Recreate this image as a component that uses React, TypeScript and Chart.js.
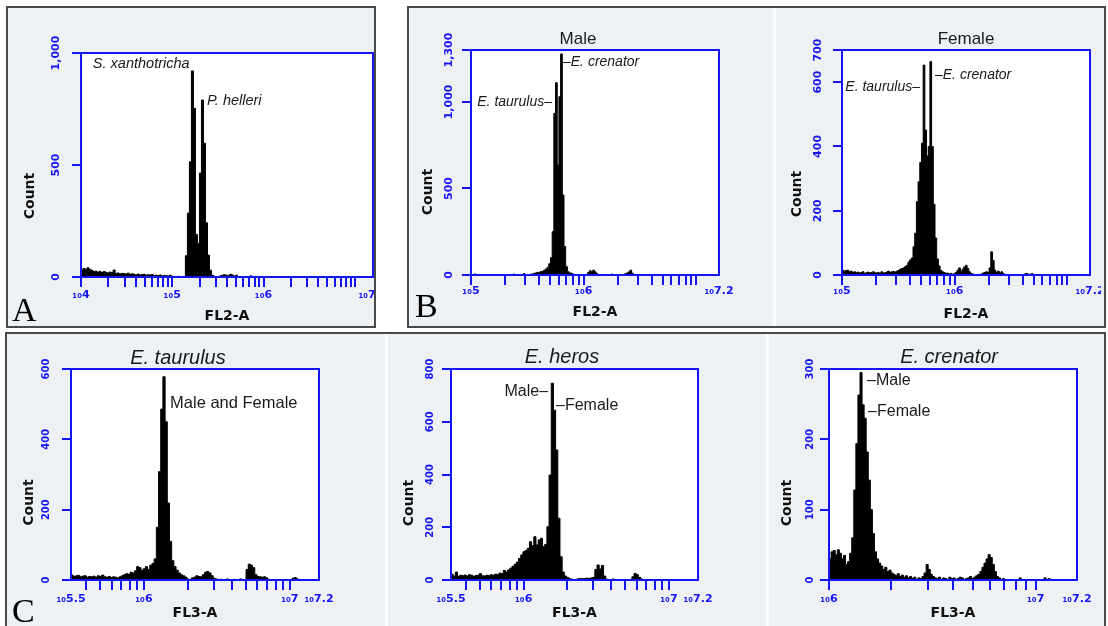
import React, { useEffect, useRef } from "react";
import { Chart, registerables } from "chart.js";

Chart.register(...registerables);

// ---------- Panel A (FL2-A, S. xanthotricha / P. helleri) ----------
const aBinStart = 4.0;
const aBinWidth = 0.022;
const aCounts = [
  31, 38, 35, 41, 33, 30,
  24, 26, 22, 25, 20, 24, 21, 18, 22, 20,
  31,
  16, 18, 14, 16, 15, 13, 17, 12, 14,
  12, 10, 13, 9, 11, 12, 8, 10, 9, 11,
  7, 8, 6, 9, 5, 7, 6, 4, 8, 3,
  2, 0, 3, 0, 1, 0,
  95, 285, 514, 920, 753, 190, 150, 464, 790, 597, 242, 98, 30, 8,
  3, 0, 0, 5, 8, 10, 8, 6, 12, 9, 4, 8, 0, 0, 0, 0, 0, 2, 5, 3,
];
const aXTickValues = [4, 5, 6, 7.2];
const aXTickLabels = ["₁₀4", "₁₀5", "₁₀6", "₁₀7.2"];
const aYTicks = [0, 500, 1000];

// ---------- Panel B Male ----------
const bMaleBinStart = 5.0;
const bMaleBinWidth = 0.015;
const bMaleCounts = [
  0, 0, 6,
  0, 0, 0, 0, 0, 0, 0, 0, 0, 0, 0, 0, 0, 0, 0, 0, 0, 0, 0, 0, 0, 0,
  5, 0, 0, 0, 0, 0, 8, 0, 2, 0, 5, 6,
  10, 12, 15, 15, 20, 22, 28, 35, 45, 65, 100,
  250, 934, 1111, 636, 1030, 1277, 462, 164, 48, 19, 12,
  10, 5, 0, 0, 0, 0, 0, 0, 0, 3,
  15, 25, 20, 28, 18, 8,
  0, 0, 0, 0, 0, 0, 0, 0,
  5,
  0, 0, 0, 0, 0, 0, 0,
  8, 12, 18, 28, 10,
  0,
];
const bMaleXTickValues = [5, 6, 7.2];
const bMaleXTickLabels = ["₁₀5", "₁₀6", "₁₀7.2"];
const bMaleYTicks = [0, 500, 1000, 1300];

// ---------- Panel B Female ----------
const bFemaleBinStart = 5.0;
const bFemaleBinWidth = 0.015;
const bFemaleCounts = [
  15, 12, 14, 15, 10, 12, 8, 10,
  7, 9, 6, 8, 10, 5, 7, 9, 6, 8, 10, 7, 6,
  8, 5, 10, 6, 7, 9, 12, 8, 10, 11, 9, 12, 14, 18, 20,
  22, 26, 30, 40, 47, 53, 88, 130, 228, 290, 350, 410, 653, 451, 370, 400, 664, 399, 220, 115, 50, 28, 15,
  10, 8, 5, 6, 3, 5, 2, 4, 8, 15, 22, 12, 18, 25, 30, 20, 10, 5, 3,
  0, 0, 2, 0, 3, 6, 8, 10, 8, 22, 72, 45, 15, 8, 12, 6, 10, 4, 2,
  0, 0, 0, 0, 0, 0, 0, 0, 0, 0, 0,
  4, 5, 0, 3, 4, 0,
];
const bFemaleXTickValues = [5, 6, 7.2];
const bFemaleXTickLabels = ["₁₀5", "₁₀6", "₁₀7.2"];
const bFemaleYTicks = [0, 200, 400, 600, 700];

// ---------- Panel C: E. taurulus ----------
const cTaurBinStart = 5.5;
const cTaurBinWidth = 0.015;
const cTaurCounts = [
  14, 10, 12, 13, 9, 11, 12, 8, 10, 9, 11, 8, 12, 10, 14,
  9, 8, 10, 7, 9, 8, 6, 9,
  12, 15, 18, 16, 22, 20, 26,
  38, 35, 28, 32, 38, 30,
  42, 47, 60,
  150, 308, 486, 578, 450, 219, 110, 55,
  38, 28, 20, 15, 12, 8,
  3, 0, 6,
  8, 12, 10, 9,
  15, 22, 24, 20, 12,
  5, 3, 0, 2, 0,
  0, 3, 0, 0, 2, 0, 0, 3, 0, 0,
  30, 45, 42, 35, 15,
  10, 9, 8, 9, 6,
  0, 0, 0, 0, 0, 0, 0, 0, 0, 0, 0,
  5, 7, 3,
];
const cTaurXTickValues = [5.5, 6, 7, 7.2];
const cTaurXTickLabels = ["₁₀5.5", "₁₀6", "₁₀7", "₁₀7.2"];
const cTaurYTicks = [0, 200, 400, 600];

// ---------- Panel C: E. heros ----------
const cHerosBinStart = 5.5;
const cHerosBinWidth = 0.015;
const cHerosCounts = [
  22, 15, 30, 14, 18, 16, 19, 15, 20, 18, 14, 17, 18, 24, 16, 15, 18, 16, 20, 18, 22, 20, 26, 24, 36, 30,
  38, 45, 52, 60, 68, 82, 95, 107, 112, 120, 145, 130, 164, 133, 152, 158, 126, 135, 202, 398, 746, 644, 493, 234, 88, 30, 15, 10,
  5, 3, 0, 2,
  5, 6, 5, 6, 7, 6, 8, 10,
  40, 57, 42, 55, 15, 3, 0, 0,
  4,
  0, 0, 0, 0, 0, 0, 0, 0,
  12, 25, 20, 10, 4, 2, 0,
];
const cHerosXTickValues = [5.5, 6, 7, 7.2];
const cHerosXTickLabels = ["₁₀5.5", "₁₀6", "₁₀7", "₁₀7.2"];
const cHerosYTicks = [0, 200, 400, 600, 800];

// ---------- Panel C: E. crenator ----------
const cCrenBinStart = 6.0;
const cCrenBinWidth = 0.01;
const cCrenCounts = [
  30, 40, 42, 36, 43, 38, 30, 35, 22, 26,
  38, 60, 128, 194, 263,
  295,
  249, 230, 182, 142, 100, 66,
  40, 30, 24, 20, 15, 18, 12, 14, 10,
  8, 6, 9, 5, 7, 4, 6,
  3, 5, 2, 4, 0, 3, 2, 5,
  10, 22, 15, 8, 5,
  3, 2, 4, 0, 3, 2, 0, 4, 2, 3, 0, 2, 4, 3, 0, 2, 3, 5, 2, 4, 6, 8,
  12, 18, 24, 30, 36, 32, 22, 12, 5,
  3, 0, 2, 0, 0, 0, 0, 0, 0, 0,
  3,
  0, 0, 0, 0, 0, 0, 0, 0, 0, 0, 0,
  3, 0, 2, 0,
];
const cCrenXTickValues = [6, 7, 7.2];
const cCrenXTickLabels = ["₁₀6", "₁₀7", "₁₀7.2"];
const cCrenYTicks = [0, 100, 200, 300];

// ---------- styling ----------
const BLUE = "#1414f5";
const PANEL_BG = "#edf1f4";
const SANS = '"Liberation Sans", Arial, sans-serif';
const AXISFONT = '"DejaVu Sans", sans-serif';
const Y_TITLE = "Count";

type Txt = { text: string; x: number; y: number; size: number; italic?: boolean; align: CanvasTextAlign };

type Spec = {
  id: string;
  canvas: { x: number; y: number; w: number; h: number };
  plot: { l: number; r: number; t: number; b: number };
  yW: number;
  xH: number;
  binStart: number;
  binWidth: number;
  counts: number[];
  xMin: number;
  xMax: number;
  xTickValues: number[];
  xTickLabels: string[];
  yMax: number;
  yTicks: number[];
  xTitle: string;
  yFont: number;
  yPad: number;
  xPad: number;
  countDx: number;
  countDy: number;
  texts: Txt[];
};

const SPECS: Spec[] = [
  {
    id: "A",
    canvas: { x: 8, y: 8, w: 366, h: 320 },
    plot: { l: 81, r: 373, t: 53, b: 277 },
    yW: 40, xH: 50,
    binStart: aBinStart, binWidth: aBinWidth, counts: aCounts,
    xMin: 4, xMax: 7.2, xTickValues: aXTickValues, xTickLabels: aXTickLabels,
    yMax: 1000, yTicks: aYTicks,
    xTitle: "FL2-A", yFont: 11, yPad: -2, xPad: 2, countDx: -51, countDy: 31,
    texts: [
      { text: "S. xanthotricha", x: 4.13, y: 951, size: 14.5, italic: true, align: "left" },
      { text: "P. helleri", x: 5.381, y: 786, size: 14.5, italic: true, align: "left" },
    ],
  },
  {
    id: "Bm",
    canvas: { x: 412, y: 8, w: 358, h: 320 },
    plot: { l: 471, r: 719, t: 50, b: 275 },
    yW: 40, xH: 48,
    binStart: bMaleBinStart, binWidth: bMaleBinWidth, counts: bMaleCounts,
    xMin: 5, xMax: 7.2, xTickValues: bMaleXTickValues, xTickLabels: bMaleXTickLabels,
    yMax: 1300, yTicks: bMaleYTicks,
    xTitle: "FL2-A", yFont: 11, yPad: -5, xPad: 0, countDx: -43, countDy: 29.5,
    texts: [
      { text: "Male", x: 5.949, y: 1364, size: 17, align: "center" },
      { text: "E. taurulus–", x: 5.7185, y: 1001, size: 14, italic: true, align: "right" },
      { text: "–E. crenator", x: 5.816, y: 1231, size: 14, italic: true, align: "left" },
    ],
  },
  {
    id: "Bf",
    canvas: { x: 779, y: 8, w: 322, h: 320 },
    plot: { l: 842, r: 1090, t: 50, b: 275 },
    yW: 40, xH: 50,
    binStart: bFemaleBinStart, binWidth: bFemaleBinWidth, counts: bFemaleCounts,
    xMin: 5, xMax: 7.2, xTickValues: bFemaleXTickValues, xTickLabels: bFemaleXTickLabels,
    yMax: 700, yTicks: bFemaleYTicks,
    xTitle: "FL2-A", yFont: 11, yPad: 3.5, xPad: 0, countDx: -45, countDy: 31.5,
    texts: [
      { text: "Female", x: 6.1, y: 734, size: 17, align: "center" },
      { text: "E. taurulus–", x: 5.692, y: 583, size: 14, italic: true, align: "right" },
      { text: "–E. crenator", x: 5.825, y: 622, size: 14, italic: true, align: "left" },
    ],
  },
  {
    id: "Ct",
    canvas: { x: 8, y: 336, w: 375, h: 290 },
    plot: { l: 71, r: 319, t: 369, b: 580 },
    yW: 40, xH: 44,
    binStart: cTaurBinStart, binWidth: cTaurBinWidth, counts: cTaurCounts,
    xMin: 5.5, xMax: 7.2, xTickValues: cTaurXTickValues, xTickLabels: cTaurXTickLabels,
    yMax: 600, yTicks: cTaurYTicks,
    xTitle: "FL3-A", yFont: 10, yPad: 5, xPad: 3, countDx: -42, countDy: 28,
    texts: [
      { text: "E. taurulus", x: 6.233, y: 630, size: 20, italic: true, align: "center" },
      { text: "Male and Female", x: 6.179, y: 503, size: 16.5, align: "left" },
    ],
  },
  {
    id: "Ch",
    canvas: { x: 390, y: 336, w: 374, h: 290 },
    plot: { l: 451, r: 698, t: 369, b: 580 },
    yW: 40, xH: 44,
    binStart: cHerosBinStart, binWidth: cHerosBinWidth, counts: cHerosCounts,
    xMin: 5.5, xMax: 7.2, xTickValues: cHerosXTickValues, xTickLabels: cHerosXTickLabels,
    yMax: 800, yTicks: cHerosYTicks,
    xTitle: "FL3-A", yFont: 10, yPad: 1, xPad: 3, countDx: -42, countDy: 28.5,
    texts: [
      { text: "E. heros", x: 6.264, y: 842, size: 20, italic: true, align: "center" },
      { text: "Male–", x: 6.168, y: 716, size: 16, align: "right" },
      { text: "–Female", x: 6.223, y: 660, size: 16, align: "left" },
    ],
  },
  {
    id: "Cc",
    canvas: { x: 771, y: 336, w: 332, h: 290 },
    plot: { l: 829, r: 1077, t: 369, b: 580 },
    yW: 40, xH: 44,
    binStart: cCrenBinStart, binWidth: cCrenBinWidth, counts: cCrenCounts,
    xMin: 6, xMax: 7.2, xTickValues: cCrenXTickValues, xTickLabels: cCrenXTickLabels,
    yMax: 300, yTicks: cCrenYTicks,
    xTitle: "FL3-A", yFont: 10, yPad: -0.5, xPad: 3, countDx: -42, countDy: 28.5,
    texts: [
      { text: "E. crenator", x: 6.581, y: 316, size: 20, italic: true, align: "center" },
      { text: "–Male", x: 6.184, y: 283, size: 16, align: "left" },
      { text: "–Female", x: 6.189, y: 240, size: 16, align: "left" },
    ],
  },
];

const isLogTick = (v: number) => {
  const f = v - Math.floor(v + 1e-9);
  const m = Math.pow(10, f);
  return Math.abs(m - Math.round(m)) < 1e-6;
};

function HistChart({ spec }: { spec: Spec }) {
  const ref = useRef<HTMLCanvasElement | null>(null);

  useEffect(() => {
    const s = spec;
    const canvas = ref.current;
    if (!canvas) return;

    const pts = s.counts.map((c, i) => ({ x: s.binStart + i * s.binWidth, y: c }));
    pts.push({ x: s.binStart + s.counts.length * s.binWidth, y: 0 });

    const xTicks: number[] = [];
    for (let e = Math.floor(s.xMin); e <= Math.ceil(s.xMax); e++) {
      for (let m = 1; m <= 9; m++) {
        const v = e + Math.log10(m);
        if (v >= s.xMin - 1e-6 && v <= s.xMax + 1e-6) xTicks.push(v);
      }
    }
    s.xTickValues.forEach((v) => {
      if (!xTicks.some((t) => Math.abs(t - v) < 1e-6)) xTicks.push(v);
    });
    xTicks.sort((a, b) => a - b);
    const labelFor = (v: number) => {
      const i = s.xTickValues.findIndex((t) => Math.abs(t - v) < 1e-6);
      return i >= 0 ? s.xTickLabels[i] : "";
    };

    const pad = {
      left: s.plot.l - s.canvas.x - s.yW,
      right: s.canvas.x + s.canvas.w - s.plot.r,
      top: s.plot.t - s.canvas.y,
      bottom: s.canvas.y + s.canvas.h - s.plot.b - s.xH,
    };

    const decor = {
      id: "panelDecor" + s.id,
      beforeDraw(chart: any) {
        const { ctx, chartArea: a } = chart;
        ctx.save();
        ctx.fillStyle = "#ffffff";
        ctx.fillRect(a.left, a.top, a.right - a.left, a.bottom - a.top);
        ctx.restore();
      },
      afterDraw(chart: any) {
        const { ctx, chartArea: a, scales } = chart;
        ctx.save();
        ctx.strokeStyle = BLUE;
        ctx.lineWidth = 2;
        ctx.strokeRect(a.left, a.top, a.right - a.left, a.bottom - a.top);
        ctx.restore();

        ctx.save();
        ctx.translate(a.left + s.countDx, (a.top + a.bottom) / 2 + s.countDy);
        ctx.rotate(-Math.PI / 2);
        ctx.font = `bold 14px ${AXISFONT}`;
        ctx.fillStyle = "#111";
        ctx.textAlign = "center";
        ctx.textBaseline = "middle";
        ctx.fillText(Y_TITLE, 0, 0);
        ctx.restore();

        for (const t of s.texts) {
          const px = scales.x.getPixelForValue(t.x);
          const py = scales.y.getPixelForValue(t.y);
          ctx.save();
          ctx.font = `${t.italic ? "italic " : ""}${t.size}px ${SANS}`;
          ctx.fillStyle = "#1a1a1a";
          ctx.textAlign = t.align;
          ctx.textBaseline = "middle";
          ctx.fillText(t.text, px, py);
          ctx.restore();
        }
      },
    };

    const chart = new Chart(canvas, {
      type: "line",
      data: {
        datasets: [
          {
            data: pts,
            stepped: true,
            fill: "origin",
            backgroundColor: "#000000",
            borderColor: "#000000",
            borderWidth: 1,
            pointRadius: 0,
            tension: 0,
          },
        ],
      },
      options: {
        responsive: false,
        animation: false,
        events: [],
        layout: { padding: pad, autoPadding: false },
        plugins: {
          legend: { display: false },
          tooltip: { enabled: false },
          title: { display: false },
        },
        scales: {
          x: {
            type: "linear",
            min: s.xMin,
            max: s.xMax,
            afterBuildTicks: (sc: any) => {
              sc.ticks = xTicks.map((v) => ({ value: v }));
            },
            afterFit: (sc: any) => {
              sc.height = s.xH;
              sc.paddingLeft = 0;
              sc.paddingRight = 0;
            },
            ticks: {
              autoSkip: false,
              maxRotation: 0,
              minRotation: 0,
              color: BLUE,
              padding: s.xPad,
              font: { family: AXISFONT, size: 11, weight: "bold" },
              callback: (v: any) => labelFor(Number(v)),
            },
            grid: {
              display: true,
              drawOnChartArea: false,
              drawTicks: true,
              tickLength: 10,
              lineWidth: 2,
              color: BLUE,
              tickColor: (c: any) => (c.tick && isLogTick(c.tick.value) ? BLUE : "rgba(0,0,0,0)"),
            },
            border: { display: true, color: BLUE, width: 2 },
            title: {
              display: true,
              text: s.xTitle,
              color: "#111",
              font: { family: AXISFONT, size: 14, weight: "bold" },
              padding: { top: 0, bottom: 2 },
            },
          },
          y: {
            type: "linear",
            min: 0,
            max: s.yMax,
            afterBuildTicks: (sc: any) => {
              sc.ticks = s.yTicks.map((v) => ({ value: v }));
            },
            afterFit: (sc: any) => {
              sc.width = s.yW;
              sc.paddingTop = 0;
              sc.paddingBottom = 0;
            },
            ticks: {
              minRotation: 90,
              maxRotation: 90,
              crossAlign: "center",
              autoSkip: false,
              color: BLUE,
              padding: s.yPad,
              font: { family: AXISFONT, size: s.yFont, weight: "bold" },
              callback: (v: any) => Number(v).toLocaleString("en-US"),
            },
            grid: {
              display: true,
              drawOnChartArea: false,
              drawTicks: true,
              tickLength: 9,
              lineWidth: 2,
              color: BLUE,
            },
            border: { display: true, color: BLUE, width: 2 },
          },
        },
      } as any,
      plugins: [decor],
    });

    return () => chart.destroy();
  }, [spec]);

  return (
    <canvas
      ref={ref}
      width={spec.canvas.w}
      height={spec.canvas.h}
      style={{
        position: "absolute",
        left: spec.canvas.x,
        top: spec.canvas.y,
        width: spec.canvas.w,
        height: spec.canvas.h,
      }}
    />
  );
}

const boxStyle = (l: number, t: number, w: number, h: number): React.CSSProperties => ({
  position: "absolute",
  left: l,
  top: t,
  width: w,
  height: h,
  boxSizing: "border-box",
  border: "2px solid #4a4a4a",
  background: PANEL_BG,
});

const dividerStyle = (l: number, t: number, h: number): React.CSSProperties => ({
  position: "absolute",
  left: l,
  top: t,
  width: 3,
  height: h,
  background: "#fbfcfd",
});

const letterStyle = (l: number, t: number): React.CSSProperties => ({
  position: "absolute",
  left: l,
  top: t,
  fontFamily: '"Liberation Serif", "Times New Roman", serif',
  fontSize: 34,
  lineHeight: "34px",
  color: "#000",
});

export default function App() {
  return (
    <div
      style={{
        position: "fixed",
        left: 0,
        top: 0,
        width: 1108,
        height: 626,
        background: "#ffffff",
        overflow: "hidden",
      }}
    >
      <div style={boxStyle(6, 6, 370, 322)} />
      <div style={boxStyle(407, 6, 699, 322)} />
      <div style={dividerStyle(773, 8, 318)} />
      <div style={boxStyle(5, 332, 1101, 300)} />
      <div style={dividerStyle(385, 334, 292)} />
      <div style={dividerStyle(766, 334, 292)} />
      {SPECS.map((s) => (
        <HistChart key={s.id} spec={s} />
      ))}
      <div style={letterStyle(12, 293)}>A</div>
      <div style={letterStyle(415, 289)}>B</div>
      <div style={letterStyle(12, 594)}>C</div>
    </div>
  );
}
